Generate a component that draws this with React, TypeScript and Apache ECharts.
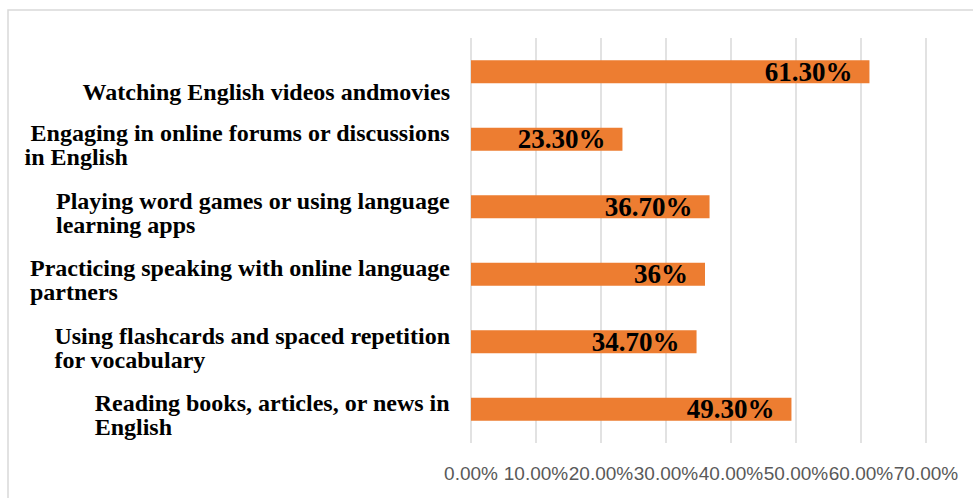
import React, { useEffect, useRef } from "react";
import * as echarts from "echarts";

const categories: string[] = [
  "Watching English videos andmovies",
  " Engaging in online forums or discussions\nin English",
  "Playing word games or using language\nlearning apps",
  "Practicing speaking with online language\npartners",
  "Using flashcards and spaced repetition\nfor vocabulary",
  "Reading books, articles, or news in\nEnglish",
];
const values: number[] = [61.3, 23.3, 36.7, 36, 34.7, 49.3];
const valueLabels: string[] = ["61.30%", "23.30%", "36.70%", "36%", "34.70%", "49.30%"];
const tickLabels: string[] = ["0.00%", "10.00%", "20.00%", "30.00%", "40.00%", "50.00%", "60.00%", "70.00%"];

const CAT_FONT = '"Liberation Serif", "Times New Roman", serif';

export default function App() {
  const ref = useRef<HTMLDivElement>(null);
  useEffect(() => {
    if (!ref.current) return;
    const chart = echarts.init(ref.current, undefined, { renderer: "svg" });
    const catData = categories.map((c, i) => ({
      value: c,
      textStyle: { padding: [i === 0 ? 40 : 12, 0, 0, 0] },
    }));
    chart.setOption({
      animation: false,
      backgroundColor: "#ffffff",
      graphic: [
        {
          type: "rect",
          shape: { x: 8, y: 10, width: 1000, height: 520 },
          style: { fill: "none", stroke: "#D9D9D9", lineWidth: 1.5 },
          silent: true,
          z: -1,
        },
      ],
      grid: { left: 471, right: 47, top: 38, bottom: 55, containLabel: false },
      xAxis: {
        type: "value",
        min: 0,
        max: 70,
        interval: 10,
        axisLine: { show: false },
        axisTick: { show: false },
        splitLine: { show: true, lineStyle: { color: "#D9D9D9", width: 1.5 } },
        axisLabel: {
          margin: 21,
          showMinLabel: true,
          showMaxLabel: true,
          hideOverlap: false,
          color: "#595959",
          fontFamily: '"Liberation Sans", Arial, sans-serif',
          fontSize: 19,
          formatter: (v: number) => tickLabels[Math.round(v / 10)] ?? "",
        },
      },
      yAxis: {
        type: "category",
        inverse: true,
        data: catData,
        axisLine: { show: false },
        axisTick: { show: false },
        splitLine: { show: false },
        axisLabel: {
          margin: 21,
          interval: 0,
          align: "right",
          verticalAlign: "middle",
          color: "#000000",
          fontFamily: CAT_FONT,
          fontWeight: "bold",
          fontSize: 24,
          lineHeight: 24,
          formatter: (v: string) =>
            v
              .split("\n")
              .map((l) => `{a|${l}}`)
              .join("\n"),
          rich: {
            a: {
              align: "left",
              fontFamily: CAT_FONT,
              fontWeight: "bold",
              fontSize: 24,
              lineHeight: 24,
              color: "#000000",
            },
          },
        },
      },
      series: [
        {
          type: "bar",
          data: values,
          barWidth: 23,
          itemStyle: { color: "#ED7D31" },
          label: {
            show: true,
            position: "insideRight",
            distance: 17,
            color: "#000000",
            fontFamily: CAT_FONT,
            fontWeight: "bold",
            fontSize: 27,
            formatter: (p: any) => valueLabels[p.dataIndex],
          },
        },
      ],
    });
    return () => chart.dispose();
  }, []);
  return (
    <div
      ref={ref}
      style={{ position: "fixed", left: 0, top: 0, width: 973, height: 498 }}
    />
  );
}
